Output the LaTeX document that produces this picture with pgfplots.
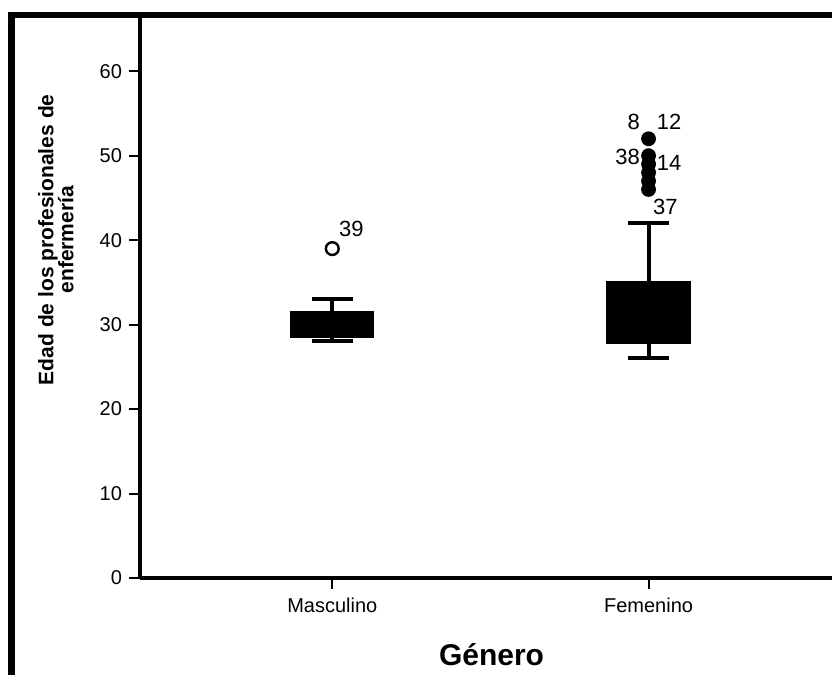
\documentclass[border=0pt]{standalone}
\usepackage{fontspec}
\setmainfont{Liberation Sans}
\usepackage{pgfplots}
\pgfplotsset{compat=1.18}

\begin{document}
\begin{tikzpicture}
\useasboundingbox (0pt,0pt) rectangle (416pt,337.5pt);
% outer frame (top and left only, the rest is cut off)
\draw[line width=3pt] (4pt,330pt) -- (416pt,330pt);
\draw[line width=3.4pt] (5.8pt,331.5pt) -- (5.8pt,0pt);
\begin{axis}[
    at={(70pt,48.5pt)}, anchor=south west,
    scale only axis, width=346pt, height=280pt,
    axis x line=bottom, axis y line=left,
    axis line style={-, line width=2pt},
    xmin=0.392, xmax=2.58,
    ymin=0, ymax=66.3,
    xtick={1,2}, xticklabels={Masculino,Femenino},
    ytick={0,10,...,60},
    tick align=outside,
    major tick length=5.5pt,
    tick style={line width=1pt, black},
    tick label style={font=\fontsize{10}{12}\selectfont},
    xticklabel style={yshift=-1pt},
    /pgf/number format/assume math mode=true,
    ylabel={Edad de los profesionales de\\enfermería},
    ylabel style={font=\bfseries\fontsize{10.5}{10}\selectfont, align=center,
        at={(axis description cs:-0.1214,0.604)}, anchor=center},
    xlabel={Género},
    xlabel style={font=\bfseries\fontsize{15}{18}\selectfont,
        at={(axis description cs:0.508,-0.1375)}, anchor=center},
    clip=false,
]
% Masculino: Q1 28.5, Q3 31.5, whiskers 28 / 33
\addplot[fill=black, draw=black, line width=1pt] coordinates {(0.87,28.5) (1.13,28.5) (1.13,31.5) (0.87,31.5)} -- cycle;
\addplot[black, line width=2pt] coordinates {(1,31.5) (1,33)};
\addplot[black, line width=2pt] coordinates {(0.935,33) (1.065,33)};
\addplot[black, line width=2pt] coordinates {(1,28.5) (1,28)};
\addplot[black, line width=2pt] coordinates {(0.935,28) (1.065,28)};
\addplot[only marks, mark=o, mark size=3.2pt, mark options={draw=black, line width=1.2pt, fill=white}]
    coordinates {(1,39)};
% Femenino: Q1 27.8, Q3 35.1, whiskers 26 / 42
\addplot[fill=black, draw=black, line width=1pt] coordinates {(1.87,27.8) (2.13,27.8) (2.13,35.1) (1.87,35.1)} -- cycle;
\addplot[black, line width=2pt] coordinates {(2,35.1) (2,42)};
\addplot[black, line width=2pt] coordinates {(1.935,42) (2.065,42)};
\addplot[black, line width=2pt] coordinates {(2,27.8) (2,26)};
\addplot[black, line width=2pt] coordinates {(1.935,26) (2.065,26)};
\addplot[only marks, mark=*, mark size=3.2pt, mark options={draw=black, line width=1pt, fill=black}]
    coordinates {(2,52) (2,50) (2,49) (2,48) (2,47) (2,46)};
% case labels
\node[font=\fontsize{11}{13}\selectfont] at (axis cs:1.06,41.3) {39};
\node[font=\fontsize{11}{13}\selectfont] at (axis cs:1.953,54.0) {8};
\node[font=\fontsize{11}{13}\selectfont] at (axis cs:2.065,54.0) {12};
\node[font=\fontsize{11}{13}\selectfont] at (axis cs:1.934,49.8) {38};
\node[font=\fontsize{11}{13}\selectfont] at (axis cs:2.065,49.2) {14};
\node[font=\fontsize{11}{13}\selectfont] at (axis cs:2.053,43.9) {37};
\end{axis}
\end{tikzpicture}
\end{document}
